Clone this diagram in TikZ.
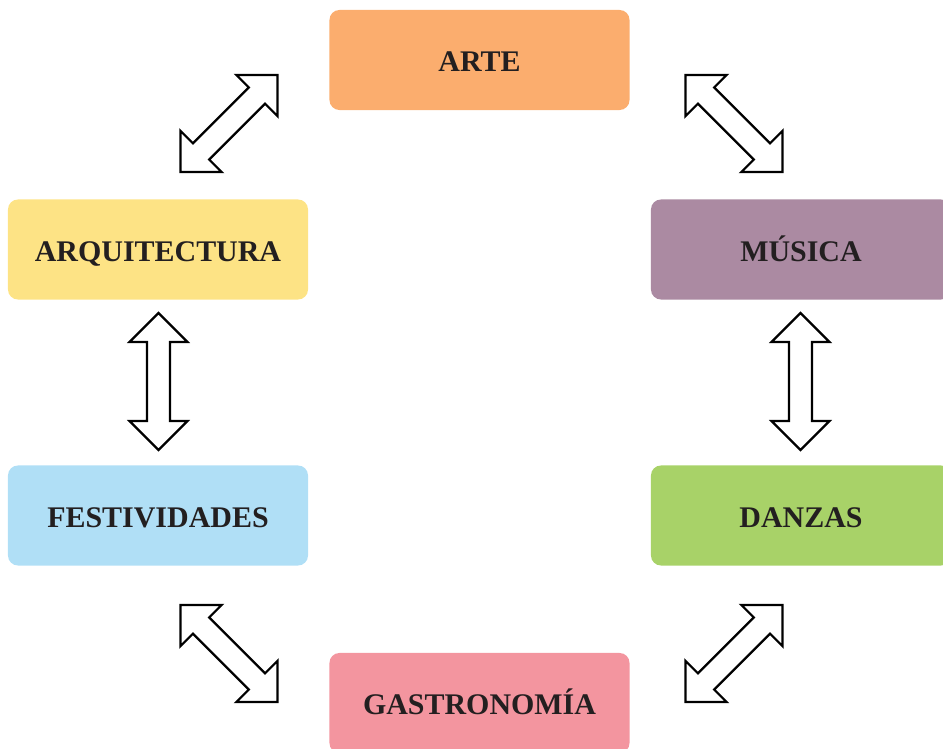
\documentclass[tikz,border=0pt]{standalone}
\usepackage{fontspec}
\setmainfont{Liberation Serif}
\usetikzlibrary{calc}

\definecolor{txt}{HTML}{231F20}
\definecolor{arteC}{HTML}{FBAD6E}
\definecolor{arqC}{HTML}{FDE385}
\definecolor{musC}{HTML}{AB8AA2}
\definecolor{festC}{HTML}{B0DFF6}
\definecolor{danC}{HTML}{A8D268}
\definecolor{gasC}{HTML}{F3959F}

\tikzset{
    box/.style={rectangle, rounded corners=0.25cm, minimum width=7.5cm,
        minimum height=2.5cm, inner sep=0pt, text=txt,
        text height=16.8pt, text depth=0pt,
        font=\fontsize{21.3}{25}\selectfont\bfseries},
    dblarrow/.pic={
        \draw [line width=1.6pt, miter limit=10, fill=white]
            (-68.5,0) -- (-39.5,29) -- (-39.5,11.5) -- (39.5,11.5) -- (39.5,29)
            -- (68.5,0) -- (39.5,-29) -- (39.5,-11.5) -- (-39.5,-11.5)
            -- (-39.5,-29) -- cycle;
    }
}

\begin{document}
\begin{tikzpicture}[x=0.025cm, y=0.025cm]
            \clip (0,0) rectangle (943,749);

            \node (arte) at (479.5,689) [box, fill=arteC] {ARTE};
            \node (arq) at (158,499.5) [box, fill=arqC] {ARQUITECTURA};
            \node (mus) at (801,499.5) [box, fill=musC] {MÚSICA};
            \node (fest) at ($(arq) + (0,-266)$) [box, fill=festC] {FESTIVIDADES};
            \node (dan) at ($(mus) + (0,-266)$) [box, fill=danC] {DANZAS};
            \node (gas) at (479.5,46) [box, fill=gasC] {GASTRONOMÍA};

            % arrows between the boxes
            \pic (a1) [rotate=45] at (229,625.5) {dblarrow};
            \pic (a2) [rotate=-45] at (734,625.5) {dblarrow};
            \pic (a3) [rotate=90] at (158.5,367.5) {dblarrow};
            \pic (a4) [rotate=90] at (800.5,367.5) {dblarrow};
            \pic (a5) [rotate=-45] at (229,95.5) {dblarrow};
            \pic (a6) [rotate=45] at (734,95.5) {dblarrow};

        \end{tikzpicture}
\end{document}
